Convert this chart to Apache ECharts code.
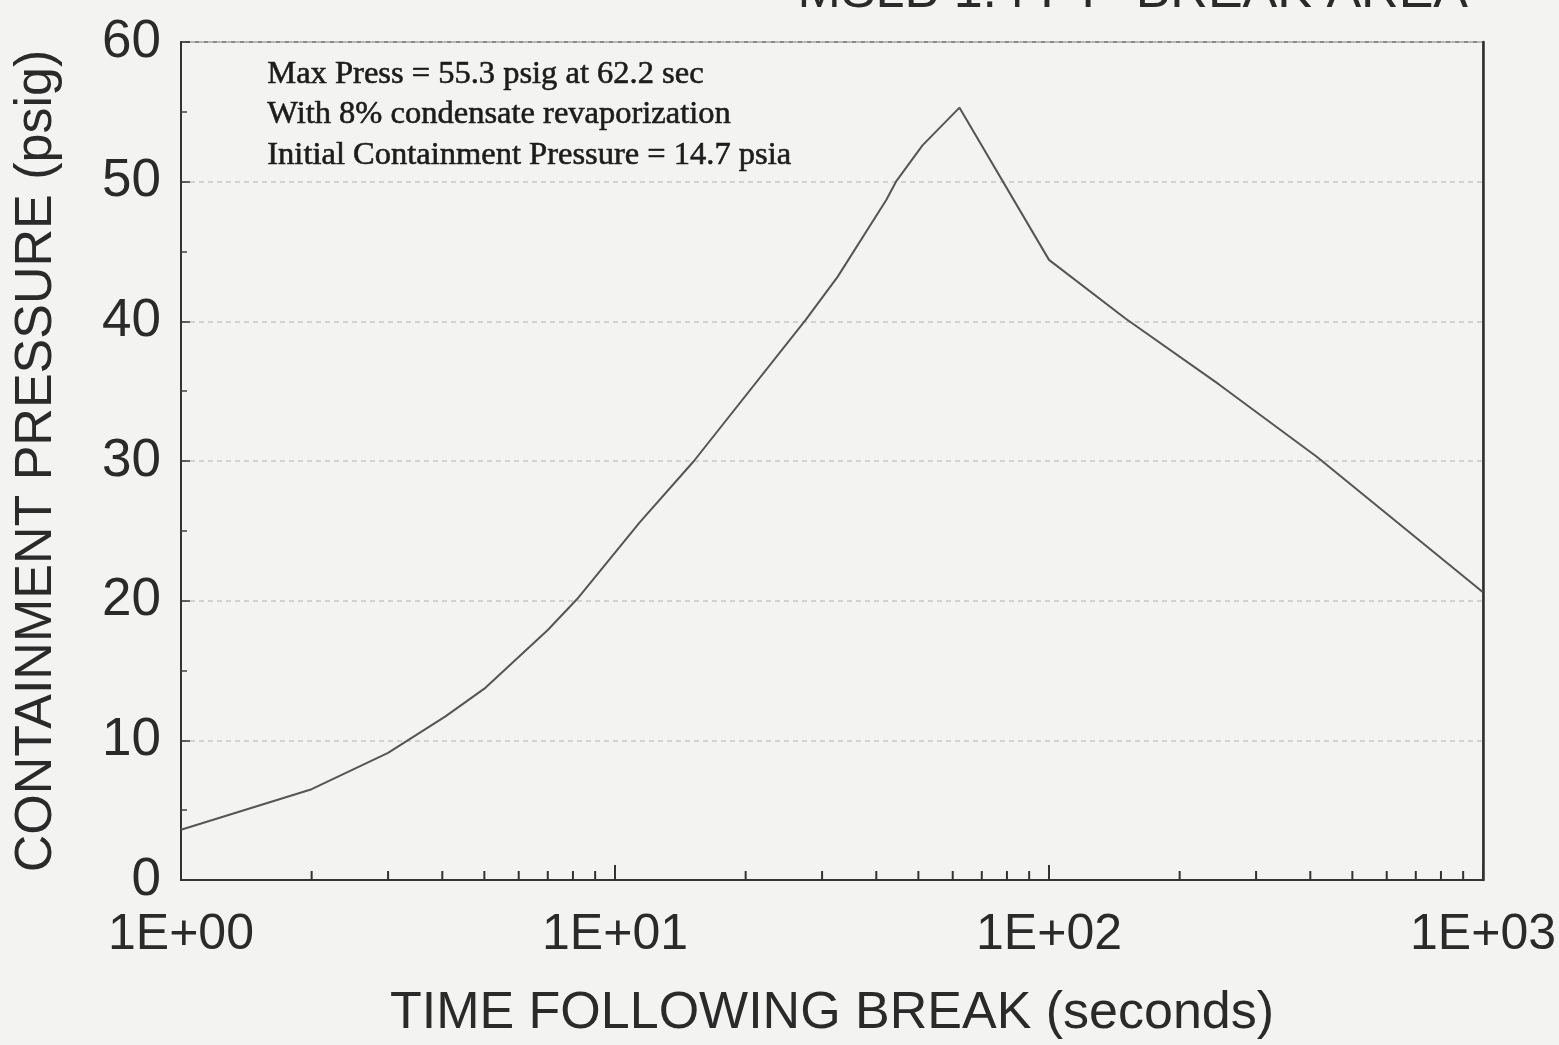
<!DOCTYPE html>
<html>
<head>
<meta charset="utf-8">
<style>
  html, body { margin: 0; padding: 0; background: #f3f3f2; }
  #chart { width: 1559px; height: 1045px; }
</style>
<script src="https://cdn.jsdelivr.net/npm/echarts@6/dist/echarts.min.js"></script>
</head>
<body>
<div id="chart"></div>
<script>
// Containment pressure transient (psig) versus time after the break (s)
var timeSec  = [1, 2, 3, 4.06, 5, 7, 8.17, 11.4, 15.2, 27.5, 32.6, 42.2, 44.4, 51.1, 62.2, 100, 150, 246, 414, 1000];
var pressure = [3.6, 6.5, 9.1, 11.7, 13.7, 17.9, 20.1, 25.6, 30.0, 40.1, 43.2, 48.7, 50.0, 52.6, 55.3, 44.4, 40.2, 35.5, 30.3, 20.6];

// Logarithmic minor tick positions on the time axis (2..9 in each decade)
var minorTimeTicks = [2, 3, 4, 5, 6, 7, 8, 9,
                      20, 30, 40, 50, 60, 70, 80, 90,
                      200, 300, 400, 500, 600, 700, 800, 900];

var yTickValues = [0, 10, 20, 30, 40, 50, 60];

var notes = [
  'Max Press = 55.3 psig at 62.2 sec',
  'With 8% condensate revaporization',
  'Initial Containment Pressure = 14.7 psia'
];

var chart = echarts.init(document.getElementById('chart'), null, { renderer: 'canvas' });

var ink = '#2a2a2a';
var sans = '"Liberation Sans", Arial, sans-serif';

var option = {
  backgroundColor: '#f3f3f2',
  animation: false,
  grid: {
    left: 181, right: 67, top: 42, bottom: 165,
    show: true, borderColor: '#8a8a8a', borderWidth: 2, backgroundColor: 'transparent'
  },
  xAxis: {
    type: 'log', logBase: 10, min: 1, max: 1000,
    name: 'TIME FOLLOWING BREAK (seconds)',
    nameLocation: 'middle', nameGap: 108,
    nameTextStyle: { fontFamily: sans, fontSize: 52, color: ink },
    axisLine: { show: true, lineStyle: { color: '#333', width: 2 } },
    axisTick: { show: true, inside: true, length: 15, lineStyle: { color: '#333', width: 2 } },
    minorTick: { show: false },
    splitLine: { show: false },
    axisLabel: {
      margin: 30, fontFamily: sans, fontSize: 50, color: ink,
      formatter: function (v) {
        var e = Math.round(Math.log10(v));
        return '1E+' + (e < 10 ? '0' : '') + e;
      }
    }
  },
  yAxis: [
    {
      type: 'value', min: 0, max: 60, interval: 10,
      name: 'CONTAINMENT PRESSURE (psig)',
      nameLocation: 'middle', nameGap: 118,
      nameTextStyle: { fontFamily: sans, fontSize: 52, color: ink },
      axisLine: { show: true, lineStyle: { color: '#333', width: 2 } },
      axisTick: { show: true, inside: true, length: 9, lineStyle: { color: '#333', width: 1.5 } },
      minorTick: { show: true, splitNumber: 2, length: 6, lineStyle: { color: '#444', width: 1.5 } },
      splitLine: { show: true, lineStyle: { color: '#c8c8c8', width: 1.5, type: [5, 4] } },
      axisLabel: {
        margin: 20, fontFamily: sans, fontSize: 53, color: ink,
        formatter: function (v) { return yTickValues.indexOf(v) >= 0 ? String(v) : ''; }
      }
    },
    {
      // plain right-hand frame line
      type: 'value', min: 0, max: 60, interval: 10, position: 'right',
      axisLine: { show: true, lineStyle: { color: '#2e2e2e', width: 2.5 } },
      axisTick: { show: false }, axisLabel: { show: false }, splitLine: { show: false }
    }
  ],
  graphic: [
    {
      type: 'text', right: 91, top: -33, silent: true,
      style: {
        text: 'MSLB 1.4 FT² BREAK AREA',
        font: '52px ' + sans, fill: ink
      }
    },
    {
      type: 'text', left: 267, top: 54, silent: true,
      style: {
        text: notes.join('\n'),
        font: '32.5px "Liberation Serif", "Times New Roman", serif',
        lineHeight: 40.5, fill: '#1c1c1c', stroke: '#1c1c1c', lineWidth: 0.6
      }
    }
  ],
  series: [
    {
      type: 'line',
      data: timeSec.map(function (t, i) { return [t, pressure[i]]; }),
      showSymbol: false,
      lineStyle: { color: '#555', width: 2 },
      silent: true
    },
    {
      type: 'custom',
      silent: true,
      clip: false,
      data: minorTimeTicks.map(function (t) { return [t, 0]; }),
      renderItem: function (params, api) {
        var p = api.coord([api.value(0), 0]);
        return {
          type: 'line',
          shape: { x1: p[0], y1: p[1], x2: p[0], y2: p[1] - 9 },
          style: { stroke: '#333', lineWidth: 2 }
        };
      }
    }
  ]
};

chart.setOption(option);
</script>
</body>
</html>
